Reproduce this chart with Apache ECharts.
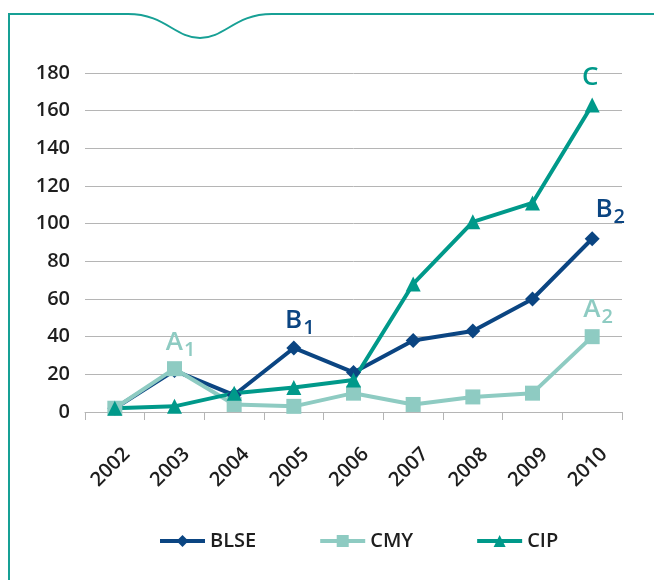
<!DOCTYPE html>
<html>
<head>
<meta charset="utf-8">
<script src="https://cdn.jsdelivr.net/npm/echarts@6/dist/echarts.min.js"></script>
<style>
  html, body { margin: 0; padding: 0; background: #fff; }
  #main { width: 654px; height: 580px; }
</style>
</head>
<body>
<div id="main"></div>
<script>
const mainEl = document.getElementById("main");
let charts = echarts.init(mainEl);

// data
const years = ["2002", "2003", "2004", "2005", "2006", "2007", "2008", "2009", "2010"];
const blse = [2, 22, 9, 34, 21, 38, 43, 60, 92];
const cmy = [2, 23, 4, 3, 10, 4, 8, 10, 40];
const cip = [2, 3, 10, 13, 17, 68, 101, 111, 163];

const font = "Open Sans";
const cBlse = "#0b4582";
const cCmy = "#8ecbc2";
const cCip = "#00998a";
const frameColor = "#17a095";
const txt = "#1e1e1e";

function tag(color) {
    return {
        fontFamily: font,
        rich: {
            a: { fontSize: 26, fontWeight: 600, color: color, fontFamily: font, lineHeight: 30, verticalAlign: "bottom" },
            s: { fontSize: 20, fontWeight: 600, color: color, fontFamily: font, lineHeight: 30, verticalAlign: "bottom", padding: [0, 0, -5, 1] }
        }
    };
}

// put a label on one point
function withLabel(values, idx, text, color, offset) {
    return values.map((v, i) => {
        if (i !== idx) return v;
        return {
            value: v,
            label: Object.assign({
                show: true,
                position: "top",
                offset: offset,
                formatter: text
            }, tag(color))
        };
    });
}

let blseData = withLabel(blse, 3, "{a|B}{s|1}", cBlse, [6, -2]);
blseData = withLabel(blseData, 8, "{a|B}{s|2}", cBlse, [18, -4]);
let cmyData = withLabel(cmy, 1, "{a|A}{s|1}", cCmy, [6, -1]);
cmyData = withLabel(cmyData, 8, "{a|A}{s|2}", cCmy, [6, -2]);
const cipData = withLabel(cip, 8, "{a|C}", cCip, [-2, -2]);

const lineFrame = { stroke: frameColor, lineWidth: 2, fill: null };

const option = {
    animation: false,
    textStyle: { fontFamily: font },
    grid: { left: 85, right: 32, top: 73, bottom: 168 },
    legend: {
        bottom: 24,
        left: 153,
        itemGap: 62,
        itemWidth: 45,
        itemHeight: 15,
        lineStyle: { width: 4 },
        textStyle: { fontSize: 20, fontWeight: 600, color: txt, fontFamily: font },
        data: ["BLSE", "CMY", "CIP"]
    },
    xAxis: {
        type: "category",
        data: years,
        boundaryGap: true,
        axisLine: { lineStyle: { color: "#b5b5b5", width: 1 } },
        axisTick: { show: true, length: 8, lineStyle: { color: "#b5b5b5" } },
        axisLabel: {
            rotate: 45, fontSize: 20, fontWeight: 600, color: txt, fontFamily: font,
            align: "center", verticalAlign: "middle", margin: 51, padding: [0, 12, 0, 0]
        }
    },
    yAxis: {
        type: "value",
        min: 0,
        max: 180,
        interval: 20,
        axisLine: { show: false },
        axisTick: { show: false },
        splitLine: { lineStyle: { color: "#b5b5b5", width: 1 } },
        axisLabel: { fontSize: 20, fontWeight: 600, color: txt, fontFamily: font, margin: 15 }
    },
    series: [
        {
            name: "BLSE", type: "line", data: blseData,
            symbol: "diamond", symbolSize: 15,
            lineStyle: { width: 4, color: cBlse },
            itemStyle: { color: cBlse }
        },
        {
            name: "CMY", type: "line", data: cmyData,
            symbol: "rect", symbolSize: 15,
            lineStyle: { width: 4, color: cCmy },
            itemStyle: { color: cCmy }
        },
        {
            name: "CIP", type: "line", data: cipData,
            symbol: "triangle", symbolSize: 15,
            lineStyle: { width: 4, color: cCip },
            itemStyle: { color: cCip }
        }
    ],
    graphic: [
        { type: "polyline", shape: { points: [[9, 580], [9, 14], [128, 14]] }, style: lineFrame },
        { type: "bezierCurve", shape: { x1: 128, y1: 14, cpx1: 165, cpy1: 14, cpx2: 175, cpy2: 38, x2: 200, y2: 38 }, style: lineFrame },
        { type: "bezierCurve", shape: { x1: 200, y1: 38, cpx1: 225, cpy1: 38, cpx2: 235, cpy2: 14, x2: 272, y2: 14 }, style: lineFrame },
        { type: "line", shape: { x1: 272, y1: 14, x2: 654, y2: 14 }, style: lineFrame }
    ]
};

charts.setOption(option);
</script>
</body>
</html>
